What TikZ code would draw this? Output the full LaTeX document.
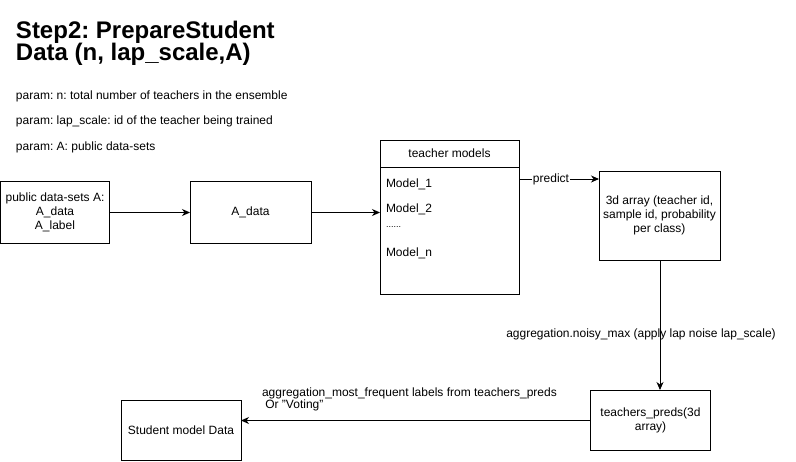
\documentclass[tikz,border=0pt]{standalone}
\usepackage{fontspec}
\setmainfont{Liberation Sans}
\usetikzlibrary{arrows.meta}
\frenchspacing
\begin{document}
\begin{tikzpicture}[x=1pt,y=-1pt,
  every node/.style={inner sep=0pt, outer sep=0pt},
  txt/.style={font=\fontsize{12}{14}\selectfont},
  ttl/.style={font=\bfseries\fontsize{24}{22}\selectfont, anchor=base west},
  box/.style={draw, line width=0.9pt, align=center, font=\fontsize{12}{14}\selectfont},
  conn/.style={line width=0.9pt, -{Stealth[length=8pt,width=7pt,inset=2.5pt]}}
]
\useasboundingbox (0,0) rectangle (796,461);

% title and parameters
\node[ttl] (t1) at (16,38) {Step2: PrepareStudent};
\node[ttl] (t2) at (16,60) {Data (n, lap\_scale,A)};
\node[txt, anchor=base west] (p1) at (16,99.5) {param: n: total number of teachers in the ensemble};
\node[txt, anchor=base west] (p2) at (16,124.5) {param: lap\_scale: id of the teacher being trained};
\node[txt, anchor=base west] (p3) at (16,150.5) {param: A: public data-sets};

% boxes
\node[box, minimum width=109pt, minimum height=62pt] (pub) at (55,212.5)
  {public data-sets A:\\A\_data\\A\_label};
\node[box, minimum width=121pt, minimum height=62pt] (ad) at (250.5,212.5) {A\_data};
\node[box, minimum width=139pt, minimum height=27pt] (tmh) at (449.5,153.5) {teacher models};
\node[box, minimum width=139pt, minimum height=127pt] (tmb) at (449.5,230.5) {};
\node[txt, anchor=base west] (m1) at (386,187) {Model\_1};
\node[txt, anchor=base west] (m2) at (386,212.5) {Model\_2};
\node[txt, anchor=base west] (md) at (386,227) {\fontsize{9}{10}\selectfont ......};
\node[txt, anchor=base west] (mn) at (386,256.5) {Model\_n};

\node[box, minimum width=121pt, minimum height=89pt] (arr) at (659.5,215.5)
  {3d array (teacher id,\\sample id, probability\\per class)};
\node[box, minimum width=120pt, minimum height=60pt] (tp) at (650.5,420.5)
  {teachers\_preds(3d\\array)};
\node[box, minimum width=120pt, minimum height=60pt] (st) at (181,430.5) {Student model Data};

% connectors
\draw[conn] (pub.east) -- (ad.west);
\draw[conn] (ad.east) -- (ad.east -| tmb.west);
\coordinate (pr) at (519,179);
\draw[conn] (pr) -- node[txt, fill=white, inner sep=1pt, pos=0.4] (lp) {predict} (pr -| arr.west);
\draw[conn] (arr.south -| 660,0) -- (660,390);
\node[txt] (ln) at (641,334.5) {aggregation.noisy\_max (apply lap noise lap\_scale)};
\draw[conn] (tp.west) -- (tp.west -| st.east);
\node[txt, anchor=base west] (lv) at (262,396)
  {aggregation\_most\_frequent labels from teachers\_preds};
\node[txt, anchor=base west] (lv2) at (262,408.5) {\ Or \symbol{34}Voting\symbol{34}};
\end{tikzpicture}
\end{document}
